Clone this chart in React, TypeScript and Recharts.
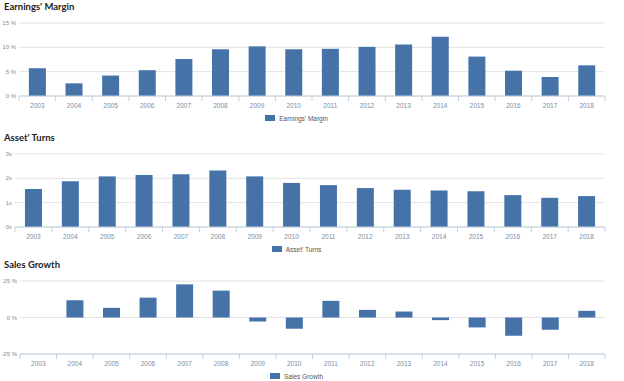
import React from "react";
import { BarChart, Bar, XAxis, YAxis, CartesianGrid, Legend } from "recharts";

const years = ["2003", "2004", "2005", "2006", "2007", "2008", "2009", "2010", "2011", "2012", "2013", "2014", "2015", "2016", "2017", "2018"];
const earningsMargin = [5.7, 2.6, 4.2, 5.3, 7.6, 9.6, 10.2, 9.6, 9.7, 10.1, 10.6, 12.2, 8.1, 5.2, 3.9, 6.3];
const assetTurns = [1.56, 1.88, 2.08, 2.14, 2.17, 2.32, 2.08, 1.81, 1.72, 1.6, 1.53, 1.5, 1.47, 1.31, 1.2, 1.27];
const salesGrowth = [null, 11.8, 6.6, 13.6, 22.7, 18.4, -2.7, -7.7, 11.4, 5.2, 4.1, -1.8, -6.8, -12.5, -8.4, 4.6];

const marginTicks = [0, 5, 10, 15];
const turnsTicks = [0, 1, 2, 3];
const growthTicks = [-25, 0, 25];

const W = 624;
const RIGHT = 19;
const BLUE = "#4572A7";
const LABEL = "#7d8ea6";

function BoundaryTick(props: any) {
  const { x, y, payload, index, band } = props;
  const left = x - band / 2;
  return (
    <g>
      <line x1={left} y1={y} x2={left} y2={y + 5} stroke="#c0d0e0" />
      {index === years.length - 1 && (
        <line x1={x + band / 2} y1={y} x2={x + band / 2} y2={y + 5} stroke="#c0d0e0" />
      )}
      <text x={x} y={y + 12} textAnchor="middle" fontSize={6.5} fill={LABEL} fontFamily="Liberation Sans">
        {payload.value}
      </text>
    </g>
  );
}

function LegendBox({ label }: { label: string }) {
  return (
    <div style={{ display: "flex", justifyContent: "center", alignItems: "center", height: 12, paddingRight: 12 }}>
      <span style={{ width: 10, height: 6, background: BLUE, marginRight: 4 }} />
      <span style={{ fontSize: 6.5, color: "#555", fontFamily: "Liberation Sans" }}>{label}</span>
    </div>
  );
}

interface PanelProps {
  title: string;
  top: number;
  height: number;
  axisWidth: number;
  data: { year: string; value: number | null }[];
  domain: [number, number];
  ticks: number[];
  fmt: (v: number) => string;
  legend: string;
}

function Panel({ title, top, height, axisWidth, data, domain, ticks, fmt, legend }: PanelProps) {
  const band = (W - RIGHT - axisWidth) / years.length;
  return (
    <div style={{ position: "absolute", left: 0, top, width: W, height }}>
      <div style={{ position: "absolute", left: 4, top: 2, fontFamily: "Lato", fontWeight: 700, fontSize: 9.5, color: "#222" }}>
        {title}
      </div>
      <BarChart width={W} height={height} data={data} margin={{ top: 24, right: RIGHT, bottom: 0, left: 0 }} barCategoryGap="27%">
        <CartesianGrid vertical={false} stroke="#e3e3e3" />
        <XAxis
          dataKey="year"
          axisLine={{ stroke: "#c0d0e0" }}
          tickLine={false}
          tickSize={0}
          tickMargin={0}
          height={16}
          interval={0}
          tick={<BoundaryTick band={band} />}
        />
        <YAxis
          width={axisWidth}
          domain={domain}
          ticks={ticks}
          tickFormatter={fmt}
          axisLine={false}
          tickLine={false}
          tickSize={0}
          tickMargin={3}
          tick={{ fontSize: 6, fill: "#888", fontFamily: "Liberation Sans" }}
        />
        <Legend verticalAlign="bottom" height={12} content={() => <LegendBox label={legend} />} />
        <Bar dataKey="value" fill={BLUE} isAnimationActive={false} />
      </BarChart>
    </div>
  );
}

const pct = (v: number) => `${v}\u00a0%`;

export default function App() {
  const margin = years.map((year, i) => ({ year, value: earningsMargin[i] }));
  const turns = years.map((year, i) => ({ year, value: assetTurns[i] }));
  const growth = years.map((year, i) => ({ year, value: salesGrowth[i] }));
  return (
    <div style={{ position: "absolute", left: 0, top: 0, width: W, height: 381, background: "#fff" }}>
      <Panel title="Earnings' Margin" top={-1} height={125} axisWidth={19} data={margin} domain={[0, 15]} ticks={marginTicks} fmt={pct} legend="Earnings' Margin" />
      <Panel title="Asset' Turns" top={130} height={125} axisWidth={15} data={turns} domain={[0, 3]} ticks={turnsTicks} fmt={(v) => `${v}x`} legend="Asset' Turns" />
      <Panel title="Sales Growth" top={257} height={125} axisWidth={20} data={growth} domain={[-25, 25]} ticks={growthTicks} fmt={pct} legend="Sales Growth" />
    </div>
  );
}
